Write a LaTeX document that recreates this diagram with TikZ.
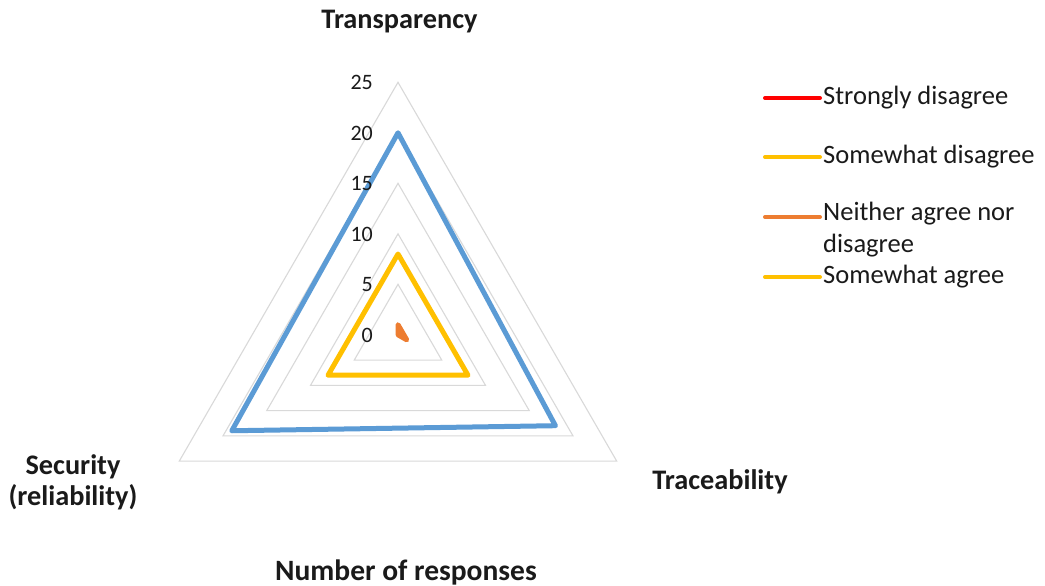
\documentclass[tikz,border=0pt]{standalone}
\usepackage{fontspec}
\setmainfont{Carlito}
\definecolor{gridc}{HTML}{D9D9D9}
\definecolor{sblue}{HTML}{5B9BD5}
\definecolor{syellow}{HTML}{FFC000}
\definecolor{sorange}{HTML}{ED7D31}
\definecolor{sred}{HTML}{FF0000}
\definecolor{txt}{HTML}{1A1A1A}
\tikzset{
  gridline/.style={draw=gridc, line width=1.1pt},
  series/.style={line width=5pt, line join=round, line cap=round},
  axtitle/.style={font=\fontsize{28.3}{31}\selectfont\bfseries, text=txt, align=center, inner sep=0pt},
  tick/.style={font=\fontsize{22}{26}\selectfont, text=txt, anchor=east, inner sep=0pt},
  legtext/.style={font=\fontsize{26.5}{31.5}\selectfont, text=txt, anchor=west, align=left, inner sep=0pt},
  legline/.style={line width=4pt, line cap=round}
}
\begin{document}
\begin{tikzpicture}[x=1pt,y=-1pt]
\useasboundingbox[fill=white] (0,0) rectangle (1045,586);
\begin{scope}[shift={(398,334.8)},yscale=-1]
  \foreach \v in {5,10,15,20,25}
    \draw[gridline] (90:\v*10.1) -- (-30:\v*10.1) -- (210:\v*10.1) -- cycle;
  \draw[series, sblue] (90:20*10.1) -- (-30:18*10.1) -- (210:19*10.1) -- cycle;
  \draw[series, syellow] (90:8*10.1) -- (-30:8*10.1) -- (210:8*10.1) -- cycle;
  \draw[series, sorange, fill=sorange] (90:1*10.1) -- (-30:1*10.1) -- (0,0) -- cycle;
\end{scope}
\foreach \v in {0,5,10,15,20,25}
  \node[tick] (t\v) at (373,335-\v*10.1) {\v};
\node[axtitle] (ttr) at (399.5,22) {Transparency};
\node[axtitle] (ttc) at (720,482) {Traceability};
\node[axtitle] (tsec) at (73,482) {Security\\(reliability)};
\node[axtitle, font=\fontsize{29.5}{32}\selectfont\bfseries] (tnum) at (406,572) {Number of responses};
% legend
\coordinate (l1a) at (765,98);  \coordinate (l1b) at (820,98);
\coordinate (l2a) at (765,157); \coordinate (l2b) at (820,157);
\coordinate (l3a) at (765,217); \coordinate (l3b) at (820,217);
\coordinate (l4a) at (765,277); \coordinate (l4b) at (820,277);
\draw[legline, sred] (l1a) -- (l1b);
\draw[legline, syellow] (l2a) -- (l2b);
\draw[legline, sorange] (l3a) -- (l3b);
\draw[legline, syellow] (l4a) -- (l4b);
\node[legtext] (g1) at (823,98) {Strongly disagree};
\node[legtext] (g2) at (823,157) {Somewhat disagree};
\node[legtext, anchor=north west] (g3) at (823,202) {Neither agree nor\\disagree};
\node[legtext] (g4) at (823,277) {Somewhat agree};
\end{tikzpicture}
\end{document}
